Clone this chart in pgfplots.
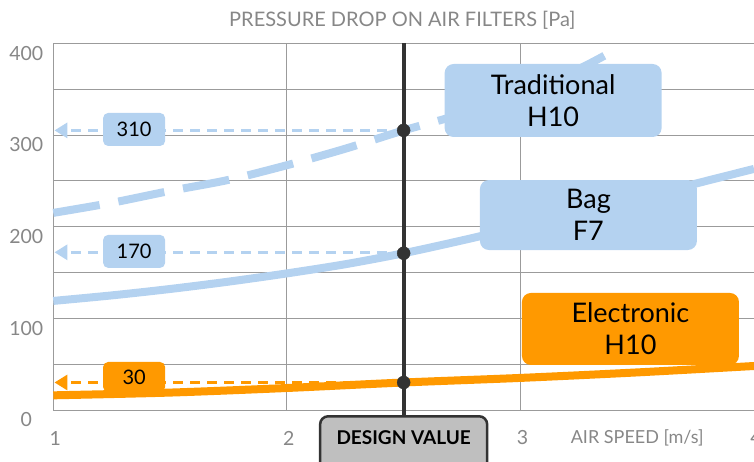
\documentclass[border=0pt]{standalone}
\usepackage{pgfplots}
\pgfplotsset{compat=1.18}
\usepackage{fontspec}
\setmainfont{Lato}
\usetikzlibrary{arrows.meta}
\definecolor{lblue}{RGB}{180,210,240}
\definecolor{orng}{RGB}{255,153,0}
\definecolor{dk}{RGB}{51,51,51}
\definecolor{gridc}{RGB}{155,155,155}
\definecolor{txtc}{RGB}{135,135,135}
\definecolor{boxg}{RGB}{191,191,191}
\begin{document}
\begin{tikzpicture}[x=1pt,y=1pt]
\begin{axis}[
  scale only axis, width=700.7pt, height=366.7pt,
  xmin=1, xmax=4, ymin=0, ymax=400,
  xtick={1,2,3,4}, ytick={0,100,200,300,400},
  minor ytick={50,150,250,350},
  grid=both,
  major grid style={gridc, line width=0.8pt},
  minor grid style={gridc, line width=0.8pt},
  axis line style={gridc, line width=0.8pt},
  tick style={draw=none},
  /pgf/number format/assume math mode=true,
  ticklabel style={font=\fontsize{19.5}{19.5}\selectfont, text=txtc},
  yticklabel style={anchor=center, xshift=-27pt, yshift=-10pt},
  xticklabel style={anchor=center, yshift=-28pt, xshift=2pt},
  clip=false,
]
% Traditional H10 (dashed)
\addplot[lblue, line width=8pt, smooth, dash pattern=on 47pt off 19pt] coordinates {
 (1,215) (1.25,226) (1.5,239) (1.75,251) (2,267) (2.25,285) (2.5,305) (2.75,323) (3,345) (3.25,372) (3.42,395)};
% Bag F7
\addplot[lblue, line width=8pt, smooth] coordinates {
 (1,119) (1.25,125) (1.5,132) (1.75,140) (2,149) (2.25,159) (2.5,171) (2.75,185) (3,200) (3.5,231) (4,263)};
% Electronic H10
\addplot[orng, line width=8pt, smooth] coordinates {
 (1,16) (1.5,19) (2,24) (2.5,30) (3,35) (3.5,41) (4,48)};
% reading arrows
\addplot[lblue, line width=3.5pt, dash pattern=on 10pt off 7pt, -{Triangle[length=13pt,width=15pt]}] coordinates {(2.5,305) (1.005,305)};
\addplot[lblue, line width=3.5pt, dash pattern=on 10pt off 7pt, -{Triangle[length=13pt,width=15pt]}] coordinates {(2.5,172) (1.005,172)};
\addplot[orng, line width=3.5pt, dash pattern=on 10pt off 7pt, -{Triangle[length=13pt,width=15pt]}] coordinates {(2.5,30) (1.005,30)};
% design value line
\addplot[dk, line width=4pt] coordinates {(2.5,-8) (2.5,400)};
\addplot[only marks, mark=*, mark size=6.5pt, dk] coordinates {(2.5,305) (2.5,171) (2.5,30)};
% labels
\node[fill=lblue, rounded corners=9pt, minimum width=217pt, minimum height=73pt, align=center, font=\fontsize{27}{32}\selectfont] at (axis cs:3.14,337.6) {Traditional\\H10};
\node[fill=lblue, rounded corners=9pt, minimum width=217pt, minimum height=70pt, align=center, font=\fontsize{27}{32}\selectfont] at (axis cs:3.291,212.7) {Bag\\F7};
\node[fill=orng, rounded corners=9pt, minimum width=217pt, minimum height=72pt, align=center, font=\fontsize{27}{32}\selectfont] at (axis cs:3.471,88.4) {Electronic\\H10};
\node[fill=lblue, rounded corners=5pt, minimum width=62pt, minimum height=33pt, font=\fontsize{20}{20}\selectfont] at (axis cs:1.346,306) {310};
\node[fill=lblue, rounded corners=5pt, minimum width=62pt, minimum height=33pt, font=\fontsize{20}{20}\selectfont] at (axis cs:1.346,173) {170};
\node[fill=orng, rounded corners=5pt, minimum width=62pt, minimum height=30pt, font=\fontsize{20}{20}\selectfont] at (axis cs:1.346,36) {30};
% design value box
\node[fill=boxg, draw=dk, line width=2.5pt, rounded corners=8pt, minimum width=167pt, minimum height=56pt, anchor=north] at (axis cs:2.5,-5.5) {};
\node[font=\bfseries\fontsize{19}{19}\selectfont, text=black] at (axis cs:2.5,0) [yshift=-28pt] {DESIGN VALUE};
% axis title texts
\node[font=\fontsize{20}{20}\selectfont, text=txtc] at (axis cs:2.494,400) [yshift=23pt] {PRESSURE DROP ON AIR FILTERS [Pa]};
\node[font=\fontsize{18}{18}\selectfont, text=txtc] at (axis cs:3.5,0) [yshift=-28pt] {AIR SPEED [m/s]};
\end{axis}
\pgfresetboundingbox
\useasboundingbox (-53.3pt,-52pt) rectangle (700.7pt,410pt);
\end{tikzpicture}
\end{document}
